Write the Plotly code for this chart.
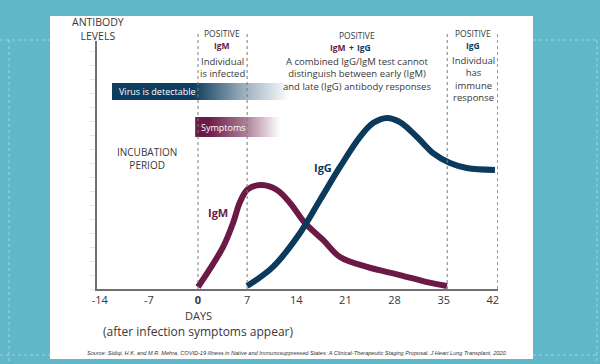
import plotly.graph_objects as go

# ---------------- data ----------------
days_ticks = [-14, -7, 0, 7, 14, 21, 28, 35, 42]
tick_text = ["-14", "-7", "<b>0</b>", "7", "14", "21", "28", "35", "42"]

igm_days = [0, 3.56, 4.99, 5.98, 7.12, 9.12, 11.25, 13.11, 15.24, 17.81, 20.23, 24.07, 28.77, 32.62, 35.47]
igm_level = [0.8, 16.9, 26.6, 35.1, 40.3, 41.9, 39.9, 34.7, 26.6, 19.8, 12.9, 8.9, 5.6, 2.8, 1.2]

igg_days = [7, 10.68, 14.53, 17.38, 20.23, 23.08, 24.93, 26.92, 28.77, 31.2, 33.48, 35.9, 38.3, 42.3]
igg_level = [1.2, 8.9, 22.6, 35.9, 49.2, 61.3, 66.9, 69.0, 67.3, 61.3, 54.8, 50.8, 48.8, 48.0]

phase_lines = [0, 7, 35.5, 42.7]            # dotted stage boundaries (days)
virus_window = [-12.25, 13.1]               # "Virus is detectable" band (days)
symptom_window = [-0.4, 11.7]               # "Symptoms" band (days)

# ---------------- styling ----------------
NAVY = "#0c3a5c"
MAROON = "#6a1a44"
TXT = "#383838"
FONT = "Open Sans"
TEAL = "#5fb7c7"

L, R, T, B = 97, 498, 41, 289   # plot-area pixel box


def X(px):
    return (px - L) / (R - L)


def Y(py):
    return (B - py) / (B - T)


fig = go.Figure()

# gradient bands
fig.add_trace(go.Scatter(
    x=[virus_window[0], virus_window[1], virus_window[1], virus_window[0], virus_window[0]],
    y=[76.2, 76.2, 83.1, 83.1, 76.2], fill="toself", mode="lines",
    line=dict(width=0, color="rgba(0,0,0,0)"), hoverinfo="skip", showlegend=False,
    fillgradient=dict(type="horizontal", colorscale=[
        [0, "rgba(14,61,95,1)"], [0.46, "rgba(14,61,95,1)"],
        [0.72, "rgba(14,61,95,0.45)"], [1, "rgba(14,61,95,0)"]])))
fig.add_trace(go.Scatter(
    x=[symptom_window[0], symptom_window[1], symptom_window[1], symptom_window[0], symptom_window[0]],
    y=[61.3, 61.3, 69.4, 69.4, 61.3], fill="toself", mode="lines",
    line=dict(width=0, color="rgba(0,0,0,0)"), hoverinfo="skip", showlegend=False,
    fillgradient=dict(type="horizontal", colorscale=[
        [0, "rgba(106,26,68,1)"], [0.15, "rgba(106,26,68,1)"],
        [0.6, "rgba(106,26,68,0.55)"], [1, "rgba(106,26,68,0)"]])))

# curves
fig.add_trace(go.Scatter(x=igm_days, y=igm_level, mode="lines",
                         line=dict(color=MAROON, width=6, shape="spline", smoothing=1),
                         showlegend=False))
fig.add_trace(go.Scatter(x=igg_days, y=igg_level, mode="lines",
                         line=dict(color=NAVY, width=6, shape="spline", smoothing=1),
                         showlegend=False))

shapes = []
# white panel
shapes.append(dict(type="rect", xref="paper", yref="paper", x0=X(50), x1=X(533), y0=Y(359), y1=Y(16),
                   fillcolor="white", line=dict(width=0), layer="below"))
# faint dashed lines on the teal background
for (x0, y0, x1, y1) in [(0, 40, 50, 40), (533, 40, 598, 40), (0, 355, 50, 355), (533, 355, 598, 355),
                         (9, 40, 9, 364), (597, 40, 597, 364)]:
    shapes.append(dict(type="line", xref="paper", yref="paper", x0=X(x0), x1=X(x1), y0=Y(y0), y1=Y(y1),
                       line=dict(color="rgba(255,255,255,0.4)", width=1, dash="dot"), layer="below"))
# dotted phase boundaries
for d in phase_lines:
    shapes.append(dict(type="line", xref="x", yref="paper", x0=d, x1=d, y0=0, y1=Y(31),
                       line=dict(color="#7a7a7a", width=1, dash="dot"), layer="above"))

ann = []


def text(px, py, s, size=9, color=TXT, xanchor="center", family=FONT):
    ann.append(dict(xref="paper", yref="paper", x=X(px), y=Y(py), text=s, showarrow=False,
                    xanchor=xanchor, yanchor="middle", align="center",
                    font=dict(size=size, color=color, family=family)))


text(98, 29.5, "ANTIBODY<br>LEVELS", size=10.5)
text(222, 33, "POSITIVE", size=8.5)
text(222, 45, "<b>IgM</b>", size=8.5, color=MAROON)
text(222, 67, "Individual<br>is infected", size=9.5)
text(357, 35.5, "POSITIVE", size=8.5)
text(348, 47.5, "<b>IgM</b>", size=8.5, color=MAROON, xanchor="right")
text(351.5, 47.5, "<b>+</b>", size=8.5, color=TXT)
text(355, 47.5, "<b>IgG</b>", size=8.5, color=NAVY, xanchor="left")
text(357, 74, "A combined IgG/IgM test cannot<br>distinguish between early (IgM)<br>and late (IgG) antibody responses", size=9.5)
text(473, 34, "POSITIVE", size=8.5)
text(473, 46, "<b>IgG</b>", size=8.5, color=NAVY)
text(473, 79, "Individual<br>has<br>immune<br>response", size=9.5)
text(117, 91.5, "Virus is detectable", size=9, color="white", xanchor="left")
text(199, 127, "Symptoms", size=9, color="white", xanchor="left")
text(147, 158.5, "INCUBATION<br>PERIOD", size=10)
text(218, 212, "<b>IgM</b>", size=11, color=MAROON)
text(323, 167, "<b>IgG</b>", size=11, color=NAVY)
text(198, 315.5, "DAYS", size=11)
text(198, 331, "(after infection symptoms appear)", size=12)
text(297, 353, "<i>Source: Sidiqi, H.K. and M.R. Mehra, COVID-19 Illness in Native and Immunosuppressed States: "
     "A Clinical-Therapeutic Staging Proposal. J Heart Lung Transplant, 2020.</i>",
     size=5.6, color="#333333", family="Liberation Sans")

x_lo = (L - 198) / 7.02
x_hi = (R - 198) / 7.02

fig.update_layout(
    width=600, height=364,
    margin=dict(l=L, r=600 - R, t=T, b=364 - B, pad=0),
    paper_bgcolor=TEAL, plot_bgcolor="rgba(0,0,0,0)",
    shapes=shapes, annotations=ann, showlegend=False,
    xaxis=dict(range=[x_lo, x_hi], tickvals=days_ticks, ticktext=tick_text, showgrid=False,
               zeroline=False, showline=True, linecolor="#707070", linewidth=2, ticks="",
               tickfont=dict(size=11, color=TXT, family=FONT), fixedrange=True),
    yaxis=dict(range=[0, 100], showgrid=False, zeroline=False, showline=True, linecolor="#707070",
               linewidth=2, ticks="outside", ticklen=5, tickcolor="#e6e6e6", tick0=0, dtick=5.645,
               showticklabels=False, fixedrange=True),
)

fig.write_html("out.html", config={"displayModeBar": False},
               post_script="document.body.style.margin='0';document.body.style.background='%s';" % TEAL)
